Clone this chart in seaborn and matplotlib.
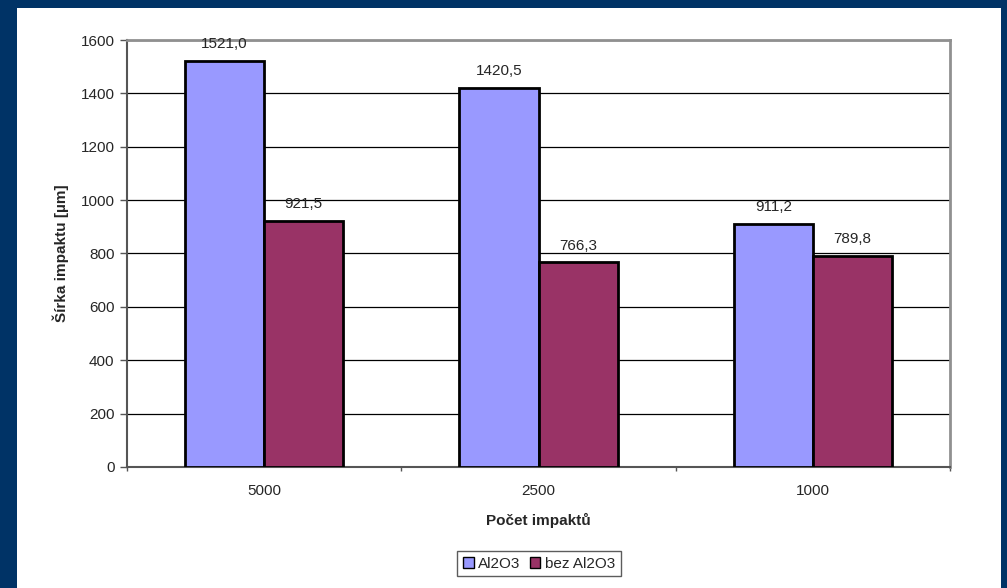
import matplotlib
matplotlib.use("Agg")
import matplotlib.pyplot as plt
from matplotlib.patches import Rectangle
import seaborn as sns
import pandas as pd

# Data
categories = ["5000", "2500", "1000"]
series_names = ["Al2O3", "bez Al2O3"]
with_al2o3 = [1521.0, 1420.5, 911.2]
without_al2o3 = [921.5, 766.3, 789.8]
y_ticks = [0, 200, 400, 600, 800, 1000, 1200, 1400, 1600]

df = pd.DataFrame({
    "Počet impaktů": categories * 2,
    "Šírka impaktu [µm]": with_al2o3 + without_al2o3,
    "série": [series_names[0]] * 3 + [series_names[1]] * 3,
})

sns.set_theme(style="white")
plt.rcParams["font.family"] = ["Liberation Sans", "DejaVu Sans"]

W, H = 1007, 588
fig = plt.figure(figsize=(W / 100, H / 100), dpi=100)
fig.patch.set_facecolor("#003366")
# white page inside the navy frame
fig.add_artist(Rectangle((17 / W, 0), (1001 - 17) / W, (588 - 8) / H,
                         transform=fig.transFigure, facecolor="white",
                         edgecolor="none", zorder=0))

ax = fig.add_axes([127 / W, 1 - 467 / H, (950 - 127) / W, (467 - 40) / H])
ax.set_zorder(1)

palette = {"Al2O3": "#9999FF", "bez Al2O3": "#993366"}
sns.barplot(data=df, x="Počet impaktů", y="Šírka impaktu [µm]", hue="série",
            palette=palette, width=0.576, gap=0, edgecolor="black",
            linewidth=2, saturation=1, ax=ax, legend=True, zorder=3)

ax.set_xlim(-0.5, 2.5)
ax.set_ylim(0, 1600)
ax.set_yticks(y_ticks)
ax.tick_params(axis="y", which="major", direction="out", length=5, width=1,
               color="#555555", labelsize=11, pad=4, left=True)
ax.tick_params(axis="x", which="major", length=0, labelsize=11, pad=12)
ax.set_xticks([-0.5, 0.5, 1.5, 2.5], minor=True)
ax.tick_params(axis="x", which="minor", direction="out", length=3, width=1,
               color="#555555", bottom=True)

ax.yaxis.grid(True, color="black", linewidth=0.9)
ax.set_axisbelow(True)

for side in ["top", "right"]:
    ax.spines[side].set_color("#909090")
    ax.spines[side].set_linewidth(2)
for side in ["left", "bottom"]:
    ax.spines[side].set_color("#555555")
    ax.spines[side].set_linewidth(1.5)

ax.set_xlabel("Počet impaktů", fontsize=11, fontweight="bold", labelpad=11)
ax.set_ylabel("Šírka impaktu [µm]", fontsize=11, fontweight="bold", labelpad=8)

for container in ax.containers:
    labels = [f"{v:.1f}".replace(".", ",") for v in container.datavalues]
    ax.bar_label(container, labels=labels, padding=7, fontsize=11)

leg = ax.legend(loc="center", bbox_to_anchor=(539 / W, 1 - 563.5 / H),
                bbox_transform=fig.transFigure, ncol=2, frameon=True,
                fontsize=11, handlelength=0.7, handleheight=0.7,
                handletextpad=0.3, columnspacing=0.6, borderpad=0.35,
                fancybox=False, edgecolor="#333333", title=None)
leg.get_frame().set_linewidth(1)
for h in leg.legend_handles:
    h.set_edgecolor("black")
    h.set_linewidth(1)

fig.savefig("out.png", dpi=100, facecolor=fig.get_facecolor())
